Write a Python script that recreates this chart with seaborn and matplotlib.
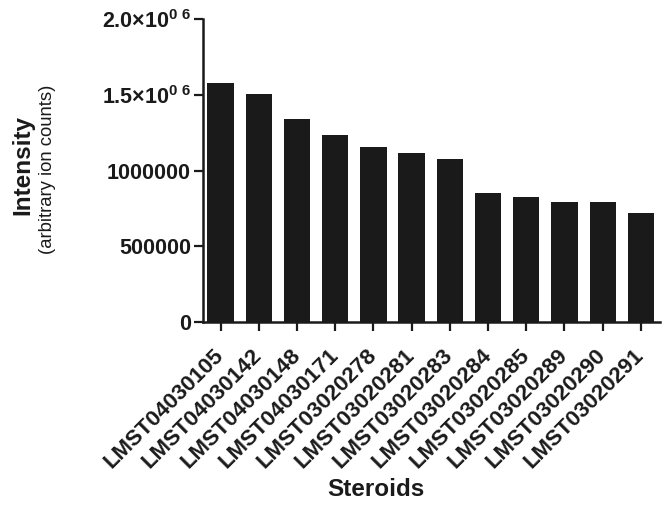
import matplotlib
matplotlib.use("Agg")
import matplotlib.pyplot as plt
import seaborn as sns
import pandas as pd

steroids = ["LMST04030105", "LMST04030142", "LMST04030148", "LMST04030171",
            "LMST03020278", "LMST03020281", "LMST03020283", "LMST03020284",
            "LMST03020285", "LMST03020289", "LMST03020290", "LMST03020291"]
intensity = [1576000, 1504000, 1342000, 1234000, 1155000, 1118000, 1079000,
             855000, 824000, 793000, 793000, 724000]
ytick_values = [0, 500000, 1000000, 1500000, 2000000]
ytick_labels = ["0", "500000", "1000000",
                r"$\mathbf{1.5{\times}10^{0\ 6}}$", r"$\mathbf{2.0{\times}10^{0\ 6}}$"]

sns.set_style("ticks")
plt.rcParams["font.family"] = ["Liberation Sans", "DejaVu Sans"]
plt.rcParams["mathtext.fontset"] = "custom"
plt.rcParams["mathtext.rm"] = "Liberation Sans"
plt.rcParams["mathtext.bf"] = "Liberation Sans:bold"
plt.rcParams["mathtext.it"] = "Liberation Sans:italic"

df = pd.DataFrame({"Steroid": steroids, "Intensity": intensity})

fig = plt.figure(figsize=(6.68, 5.05), dpi=100)
ax = fig.add_axes([202.7 / 668, 1 - 322.3 / 505, (660 - 202.7) / 668, (322.3 - 19) / 505])
sns.barplot(data=df, x="Steroid", y="Intensity", color="#1a1a1a", saturation=1,
            width=0.69, ax=ax, linewidth=0)

ax.set_xlim(-0.47, 11.5)
ax.set_ylim(0, 2000000)
ax.set_yticks(ytick_values)
ax.set_yticklabels(ytick_labels)
ax.set_xlabel("")
ax.set_ylabel("")
for s in ["top", "right"]:
    ax.spines[s].set_visible(False)
for s in ["left", "bottom"]:
    ax.spines[s].set_linewidth(1.8)
    ax.spines[s].set_color("#1a1a1a")
ax.tick_params(axis="both", length=6.5, width=1.6, color="#1a1a1a")
ax.tick_params(axis="y", pad=2, labelsize=15.5)
ax.tick_params(axis="x", pad=15, labelsize=16)
for lab in ax.get_yticklabels():
    lab.set_fontweight("bold")
    lab.set_color("#1a1a1a")
for lab in ax.get_xticklabels():
    lab.set_rotation(45)
    lab.set_ha("right")
    lab.set_va("center")
    lab.set_rotation_mode("anchor")
    lab.set_fontweight("bold")
    lab.set_color("#1a1a1a")

fig.text(375.7 / 668, 1 - 490 / 505, "Steroids", ha="center", va="center",
         fontsize=17.5, fontweight="bold", color="#1a1a1a")
fig.text(23 / 668, 1 - 165 / 505, "Intensity", ha="center", va="center",
         rotation=90, fontsize=17.5, fontweight="bold", color="#1a1a1a")
fig.text(48 / 668, 1 - 169 / 505, "(arbitrary ion counts)", ha="center", va="center",
         rotation=90, fontsize=13.3, color="#1a1a1a")

fig.savefig("out.png", dpi=100)
